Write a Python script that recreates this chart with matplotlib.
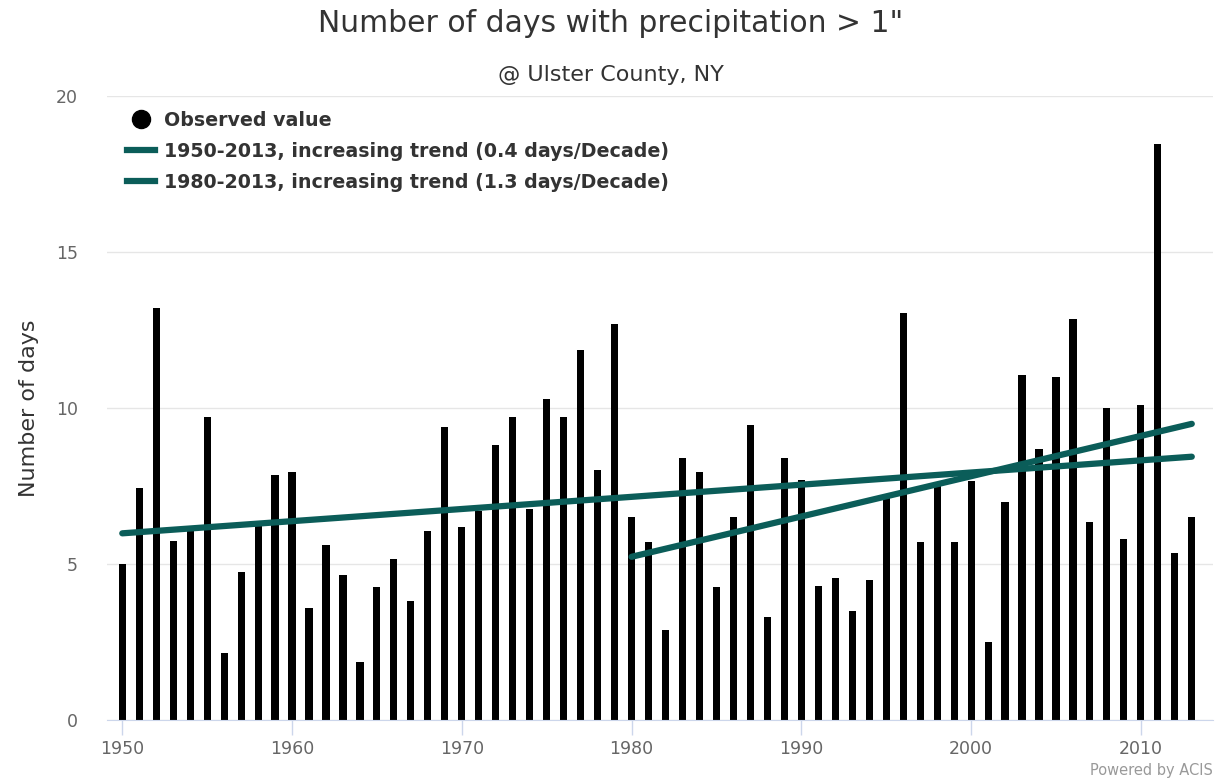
import numpy as np
import matplotlib.pyplot as plt
from matplotlib.lines import Line2D

# data
years = np.arange(1950, 2014)
days = [5.0, 7.45, 13.2, 5.75, 6.1, 9.7, 2.15, 4.75, 6.25, 7.85,
        7.95, 3.6, 5.6, 4.65, 1.85, 4.25, 5.15, 3.8, 6.05, 9.4,
        6.2, 6.7, 8.8, 9.7, 6.75, 10.3, 9.7, 11.85, 8.0, 12.7,
        6.5, 5.7, 2.9, 8.4, 7.95, 4.25, 6.5, 9.45, 3.3, 8.4,
        7.7, 4.3, 4.55, 3.5, 4.5, 7.1, 13.05, 5.7, 7.55, 5.7,
        7.65, 2.5, 7.0, 11.05, 8.7, 11.0, 12.85, 6.35, 10.0, 5.8,
        10.1, 18.45, 5.35, 6.5]
trend_labels = ['1950-2013, increasing trend (0.4 days/Decade)',
                '1980-2013, increasing trend (1.3 days/Decade)']
trend_start = [1950, 1980]

teal = '#0b5d59'

fig = plt.figure(figsize=(12.22, 7.8), dpi=100)
ax = fig.add_axes([107 / 1222, 60 / 780, 1106 / 1222, 624 / 780])

ax.bar(years, days, width=0.42, color='black', zorder=2)

# trend lines (least squares fits)
for start in trend_start:
    yrs = years[years >= start]
    vals = np.array(days)[years >= start]
    k, b = np.polyfit(yrs, vals, 1)
    ax.plot([yrs[0], yrs[-1]], [k * yrs[0] + b, k * yrs[-1] + b],
            color=teal, lw=4.5, solid_capstyle='round', zorder=3)

ax.set_xlim(1949.1, 2014.25)
ax.set_ylim(0, 20)
ax.set_yticks([0, 5, 10, 15, 20])
ax.set_xticks(np.arange(1950, 2011, 10))
ax.grid(axis='y', color='#e6e6e6', lw=1, zorder=0)
ax.set_axisbelow(True)
for s in ['top', 'right', 'left']:
    ax.spines[s].set_visible(False)
ax.spines['bottom'].set_color('#ccd6eb')
ax.tick_params(axis='x', colors='#ccd6eb', labelcolor='#666666',
               length=10.5, width=1, labelsize=12.5, pad=4)
ax.tick_params(axis='y', length=0, labelcolor='#666666', labelsize=12.5, pad=21)

ax.set_ylabel('Number of days', fontsize=16, color='#333333', labelpad=12)

fig.text(0.5, 1 - 23 / 780, 'Number of days with precipitation > 1"',
         ha='center', va='center', fontsize=21.5, color='#333333')
fig.text(0.5, 1 - 75 / 780, '@ Ulster County, NY',
         ha='center', va='center', fontsize=16, color='#333333')
fig.text(1213 / 1222, 1 - 771 / 780, 'Powered by ACIS',
         ha='right', va='center', fontsize=10.5, color='#999999')

handles = [Line2D([], [], marker='o', color='black', ls='none', markersize=13),
           Line2D([], [], color=teal, lw=4.5),
           Line2D([], [], color=teal, lw=4.5)]
labels = ['Observed value'] + trend_labels
leg = ax.legend(handles, labels, loc='upper left', bbox_to_anchor=(0.011, 0.988),
                frameon=False, handlelength=1.5, handletextpad=0.45,
                labelspacing=0.62, borderaxespad=0.0,
                prop={'weight': 'bold', 'size': 13.7})
for t in leg.get_texts():
    t.set_color('#333333')

fig.savefig('out.png', dpi=100)
